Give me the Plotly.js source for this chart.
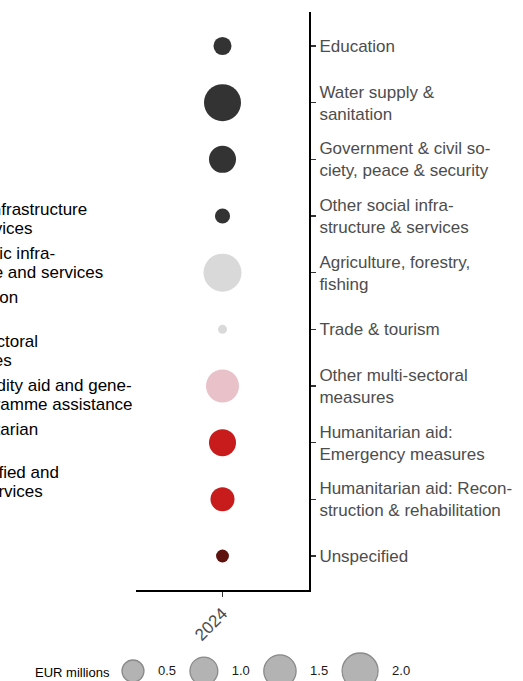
<!DOCTYPE html>
<html>
<head>
<meta charset="utf-8">
<script src="https://cdn.plot.ly/plotly-3.0.1.min.js"></script>
<style>body{margin:0;background:#fff}</style>
</head>
<body>
<div id="chart" style="width:523px;height:681px"></div>
<script>
// data
var years = ["2024"];
var sectors = ["Education", "Water supply & sanitation", "Government & civil society, peace & security",
    "Other social infrastructure & services", "Agriculture, forestry, fishing", "Trade & tourism",
    "Other multi-sectoral measures", "Humanitarian aid: Emergency measures",
    "Humanitarian aid: Reconstruction & rehabilitation", "Unspecified"];
var sectorLabels = ["Education", "Water supply &<br>sanitation", "Government & civil so-<br>ciety, peace & security",
    "Other social infra-<br>structure & services", "Agriculture, forestry,<br>fishing", "Trade & tourism",
    "Other multi-sectoral<br>measures", "Humanitarian aid:<br>Emergency measures",
    "Humanitarian aid: Recon-<br>struction & rehabilitation", "Unspecified"];
var amounts = [0.27, 2.15, 0.92, 0.15, 2.30, 0.05, 1.59, 0.92, 0.65, 0.09];
var sectorGroups = ["social", "social", "social", "social", "production", "production",
    "multi", "humanitarian", "humanitarian", "unspecified"];

var groups = ["social", "economic", "production", "multi", "commodity", "humanitarian", "unspecified"];
var groupNames = ["Social infrastructure<br>and services", "Economic infra-<br>structure and services",
    "Production", "Multi-sectoral<br>measures", "Commodity aid and gene-<br>ral programme assistance",
    "Humanitarian", "Unspecified and<br>other services"];
var groupColors = ["#333333", "#8c8c8c", "#d9d9d9", "#e9c1c9", "#f0a0a0", "#c81b1c", "#5e1210"];

var sizeBreaks = [0.5, 1.0, 1.5, 2.0];
var sizeTitle = "EUR millions";

// page geometry
var W = 523, H = 681;

// size scale, like ggplot's scale_size (area between min and max size)
var minAmount = Math.min.apply(null, amounts);
var maxAmount = Math.max.apply(null, amounts);
var minSize = 9, maxSize = 38;
function bubbleSize(v) {
    var t = Math.max(0, (v - minAmount) / (maxAmount - minAmount));
    return minSize + (maxSize - minSize) * Math.sqrt(t);
}
function groupColor(g) {
    return groupColors[groups.indexOf(g)];
}

var bubbles = {
    type: "scatter",
    mode: "markers",
    x: sectors.map(function () { return years[0]; }),
    y: sectors,
    marker: {
        size: amounts.map(bubbleSize),
        sizemode: "diameter",
        color: sectorGroups.map(groupColor),
        opacity: 1,
        line: {width: 0}
    },
    cliponaxis: false,
    hoverinfo: "x+y"
};

// size legend at the bottom, laid out left to right
var keyY = 671;
var keyStart = 122, keyGap = 14, keyLabelW = 18;
var keyX = [], keyTextX = [];
var cursor = keyStart;
sizeBreaks.forEach(function (b) {
    var r = bubbleSize(b) / 2;
    keyX.push(cursor + r);
    keyTextX.push(cursor + 2 * r + keyGap + keyLabelW / 2);
    cursor = cursor + 2 * r + keyGap + keyLabelW + keyGap;
});

var sizeKeys = {
    type: "scatter",
    mode: "markers",
    xaxis: "x2", yaxis: "y2",
    x: keyX,
    y: sizeBreaks.map(function () { return keyY; }),
    marker: {
        size: sizeBreaks.map(bubbleSize),
        sizemode: "diameter",
        color: "#b3b3b3",
        opacity: 1,
        line: {color: "#8a8a8a", width: 1.3}
    },
    hoverinfo: "skip"
};

var sizeLabels = {
    type: "scatter",
    mode: "text",
    xaxis: "x2", yaxis: "y2",
    x: keyTextX,
    y: sizeBreaks.map(function () { return keyY + 1; }),
    text: sizeBreaks.map(function (b) { return b.toFixed(1); }),
    textposition: "middle center",
    textfont: {size: 13, color: "#1a1a1a"},
    hoverinfo: "skip"
};

// colour legend on the left, mostly outside the picture
var annotations = [];
var legendX = -64.7, legendTop = 219.5, legendStep = 43.8, lineStep = 19;
groupNames.forEach(function (name, i) {
    var lines = name.split("<br>");
    var y0 = legendTop + legendStep * i - 9.5;
    lines.forEach(function (line, j) {
        annotations.push({
            xref: "paper", yref: "paper",
            x: legendX / W, y: 1 - (y0 + lineStep * j) / H,
            xanchor: "left", yanchor: "middle",
            text: line, showarrow: false,
            font: {size: 17, color: "#000000"}
        });
    });
});
annotations.push({
    xref: "paper", yref: "paper",
    x: 33 / W, y: 1 - (keyY + 1) / H,
    xanchor: "left", yanchor: "middle",
    text: sizeTitle, showarrow: false,
    font: {size: 13, color: "#000000"}
});

var layout = {
    width: W, height: H,
    margin: {l: 0, r: 0, t: 0, b: 0},
    paper_bgcolor: "#ffffff",
    plot_bgcolor: "rgba(0,0,0,0)",
    font: {family: "Liberation Sans, Arial, sans-serif", size: 17, color: "#4d4d4d"},
    showlegend: false,
    xaxis: {
        type: "category",
        domain: [136 / W, 309 / W],
        range: [-1, 1],
        showline: true, linecolor: "#000000", linewidth: 2,
        ticks: "outside", ticklen: 5, tickwidth: 1.5, tickcolor: "#333333",
        tickangle: -45,
        tickfont: {size: 17, color: "#4d4d4d"},
        showgrid: false, zeroline: false, fixedrange: true
    },
    yaxis: {
        type: "category",
        domain: [1 - 590 / H, 1 - 12 / H],
        range: [sectors.length - 0.4, -0.6],
        side: "right",
        tickvals: sectors, ticktext: sectorLabels,
        showline: true, linecolor: "#000000", linewidth: 2,
        ticks: "outside", ticklen: 5, tickwidth: 1.5, tickcolor: "#333333",
        tickfont: {size: 17, color: "#4d4d4d"},
        showgrid: false, zeroline: false, fixedrange: true
    },
    xaxis2: {domain: [0, 1], range: [0, W], visible: false, anchor: "y2", fixedrange: true},
    yaxis2: {domain: [0, 1], range: [H, 0], visible: false, anchor: "x2", fixedrange: true},
    annotations: annotations
};

Plotly.newPlot("chart", [bubbles, sizeKeys, sizeLabels], layout, {displayModeBar: false, staticPlot: true});
</script>
</body>
</html>
